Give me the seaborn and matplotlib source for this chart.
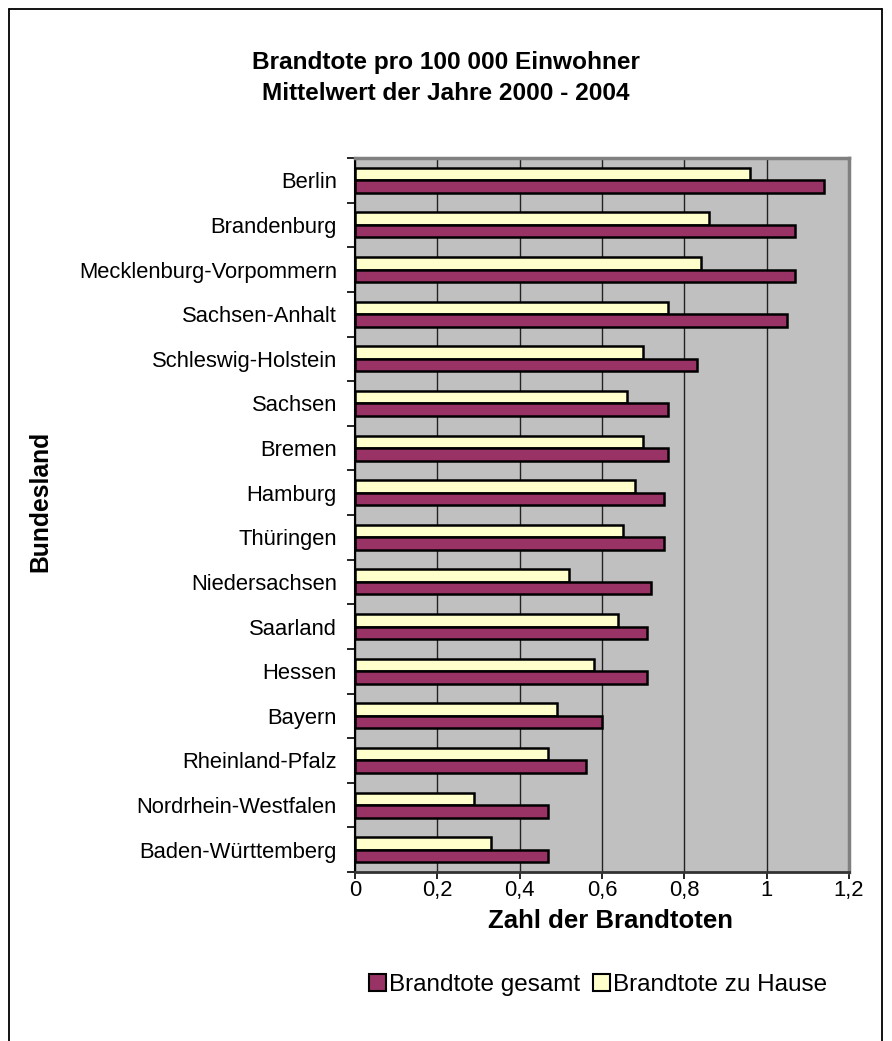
import matplotlib
matplotlib.use("Agg")
import matplotlib.pyplot as plt
import seaborn as sns
import pandas as pd
import numpy as np
from matplotlib.patches import Patch
from matplotlib.lines import Line2D
from matplotlib.ticker import FixedLocator, FuncFormatter

# Bundesländer, sortiert nach Brandtoten gesamt
laender = ["Berlin", "Brandenburg", "Mecklenburg-Vorpommern", "Sachsen-Anhalt",
           "Schleswig-Holstein", "Sachsen", "Bremen", "Hamburg", "Thüringen",
           "Niedersachsen", "Saarland", "Hessen", "Bayern", "Rheinland-Pfalz",
           "Nordrhein-Westfalen", "Baden-Württemberg"]
gesamt = [1.14, 1.07, 1.07, 1.05, 0.83, 0.76, 0.76, 0.75, 0.75, 0.72,
          0.71, 0.71, 0.60, 0.56, 0.47, 0.47]
zu_hause = [0.96, 0.86, 0.84, 0.76, 0.70, 0.66, 0.70, 0.68, 0.65, 0.52,
            0.64, 0.58, 0.49, 0.47, 0.29, 0.33]
serien = ["Brandtote gesamt", "Brandtote zu Hause"]
x_ticks = [0, 0.2, 0.4, 0.6, 0.8, 1.0, 1.2]

farben = {"Brandtote gesamt": "#993366", "Brandtote zu Hause": "#FFFFCC"}

df = pd.DataFrame({
    "Bundesland": laender * 2,
    "Wert": gesamt + zu_hause,
    "Serie": [serien[0]] * len(laender) + [serien[1]] * len(laender),
})

sns.set_theme(style="white")
plt.rcParams["font.family"] = ["Liberation Sans", "DejaVu Sans"]
for key in ["text.color", "axes.labelcolor", "xtick.color", "ytick.color"]:
    plt.rcParams[key] = "black"

W, H = 892, 1041
fig = plt.figure(figsize=(W / 100, H / 100), dpi=100)
fig.patch.set_facecolor("white")

# plot area in pixel coordinates
px_l, px_r, px_t, px_b = 355, 849, 158, 872
ax = fig.add_axes([px_l / W, 1 - px_b / H, (px_r - px_l) / W, (px_b - px_t) / H])

sns.barplot(data=df, y="Bundesland", x="Wert", hue="Serie",
            order=laender, hue_order=[serien[1], serien[0]],
            palette=farben, orient="h", width=0.56, saturation=1,
            edgecolor="black", linewidth=1.8, legend=False, ax=ax)

ax.set_facecolor("#C0C0C0")
ax.set_xlim(0, 1.2)
ax.set_ylim(len(laender) - 0.5, -0.5)
ax.set_axisbelow(True)
ax.xaxis.grid(True, color="#222222", linewidth=1.0)
ax.yaxis.grid(False)

for side in ["top", "right"]:
    ax.spines[side].set_color("#808080")
    ax.spines[side].set_linewidth(2.5)
ax.spines["left"].set_color("black")
ax.spines["left"].set_linewidth(1.5)
ax.spines["bottom"].set_color("#333333")
ax.spines["bottom"].set_linewidth(2.0)

# x axis
ax.xaxis.set_major_locator(FixedLocator(x_ticks))
ax.xaxis.set_major_formatter(FuncFormatter(lambda v, p: f"{v:g}".replace(".", ",")))
ax.tick_params(axis="x", which="major", direction="out", length=5, width=1.2,
               color="black", labelsize=15.8, pad=0.5, bottom=True)

# y axis: labels at category centres, tick marks between categories
ax.set_yticks(range(len(laender)))
ax.set_yticklabels(laender)
ax.yaxis.set_minor_locator(FixedLocator(np.arange(-0.5, len(laender), 1.0)))
ax.tick_params(axis="y", which="major", length=0, labelsize=15.8, pad=13)
ax.tick_params(axis="y", which="minor", direction="out", length=6, width=1.2,
               color="black", left=True)

ax.set_xlabel("")
ax.set_ylabel("")

# titles and axis labels
fig.text(446 / W, 1 - 63 / H, "Brandtote pro 100 000 Einwohner",
         ha="center", va="center", fontsize=17.6, fontweight="bold")
fig.text(446 / W, 1 - 93 / H, "Mittelwert der Jahre 2000 - 2004",
         ha="center", va="center", fontsize=17.6, fontweight="bold")
fig.text(611 / W, 1 - 921 / H, "Zahl der Brandtoten",
         ha="center", va="center", fontsize=18.5, fontweight="bold")
fig.text(40 / W, 1 - 501 / H, "Bundesland", rotation=90,
         ha="center", va="center", fontsize=17.8, fontweight="bold")

# legend
handles = [Patch(facecolor=farben[s], edgecolor="black", linewidth=1.5, label=s)
           for s in serien]
fig.legend(handles=handles, loc="center", bbox_to_anchor=(598 / W, 1 - 985 / H),
           ncol=2, frameon=False, fontsize=17.5, handlelength=0.7,
           handleheight=0.7, handletextpad=0.15, columnspacing=0.5,
           borderpad=0)

# chart frame
frame_kw = dict(color="black", linewidth=1.3, transform=fig.transFigure)
fig.add_artist(Line2D([9 / W, 9 / W], [0, 1 - 9 / H], **frame_kw))
fig.add_artist(Line2D([9 / W, 882 / W], [1 - 9 / H, 1 - 9 / H], **frame_kw))
fig.add_artist(Line2D([882 / W, 882 / W], [0, 1 - 9 / H], **frame_kw))

fig.savefig("out.png", dpi=100)
